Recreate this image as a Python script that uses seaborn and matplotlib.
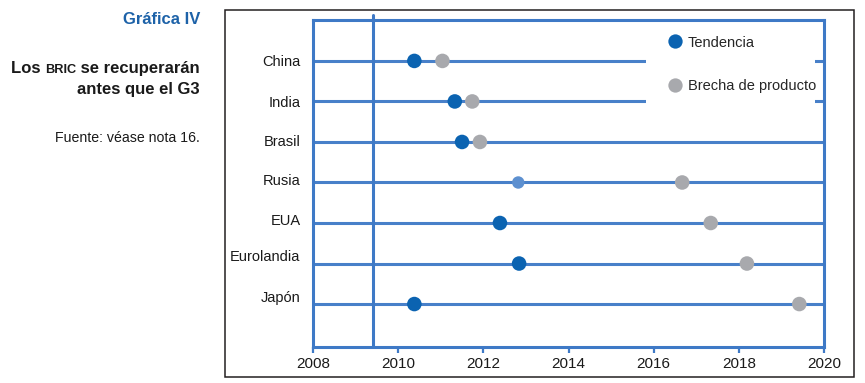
import numpy as np
import pandas as pd
import matplotlib
matplotlib.use("Agg")
import matplotlib.pyplot as plt
import matplotlib.transforms as mtransforms
from matplotlib.patches import Rectangle
from matplotlib.lines import Line2D
import seaborn as sns

# ---- data ----
countries = ["China", "India", "Brasil", "Rusia", "EUA", "Eurolandia", "Japón"]
tendencia = [2010.38, 2011.33, 2011.50, 2012.82, 2012.39, 2012.84, 2010.38]
brecha = [2011.04, 2011.74, 2011.92, 2016.67, 2017.34, 2018.19, 2019.42]
tendencia_tenue = [False, False, False, True, False, False, False]
ref_year = 2009.4
x_ticks = [2008, 2010, 2012, 2014, 2016, 2018, 2020]
series_names = ["Tendencia", "Brecha de producto"]

title = "Gráfica IV"
subtitle_parts = ["Los ", "BRIC", " se recuperarán"]
subtitle_line2 = "antes que el G3"
source = "Fuente: véase nota 16."

# ---- style ----
sns.set_style("white")
plt.rcParams["font.family"] = ["Liberation Sans", "DejaVu Sans"]

BLUE_DOT = "#0b63b1"
BLUE_TENUE = "#5d90d0"
GREY_DOT = "#a8a9ad"
LINE_C = "#3e79c6"
TITLE_C = "#1d62a8"
TXT = "#1a1a1a"

W, H = 865, 383
fig = plt.figure(figsize=(W / 100, H / 100), dpi=100)
ax = fig.add_axes([313 / W, 36 / H, 511 / W, 327 / H])

pos = np.arange(len(countries))
df = pd.DataFrame({"pais": countries, "pos": pos, "tendencia": tendencia,
                   "brecha": brecha, "tenue": tendencia_tenue})

# gridlines = country rows
ax.set_axisbelow(True)
ax.set_yticks(pos)
ax.set_yticklabels(countries)
ax.yaxis.grid(True, color=LINE_C, lw=2.2, alpha=0.95)
ax.xaxis.grid(False)

sns.scatterplot(data=df, x="brecha", y="pos", color=GREY_DOT, s=110,
                edgecolor="none", linewidth=0, ax=ax, zorder=3, legend=False)
sns.scatterplot(data=df[~df["tenue"]], x="tendencia", y="pos", color=BLUE_DOT,
                s=110, edgecolor="none", linewidth=0, ax=ax, zorder=4, legend=False)
sns.scatterplot(data=df[df["tenue"]], x="tendencia", y="pos", color=BLUE_TENUE,
                s=80, edgecolor="none", linewidth=0, ax=ax, zorder=4, legend=False)

ax.axvline(ref_year, ymin=0, ymax=1.015, color=LINE_C, lw=2.2, clip_on=False, zorder=2)

ax.set_xlim(x_ticks[0], x_ticks[-1])
ax.set_ylim(len(countries) - 1 + 1.06, -1.01)
ax.set_xlabel("")
ax.set_ylabel("")
ax.set_xticks(x_ticks)
ax.set_xticklabels([str(t) for t in x_ticks])

for s in ax.spines.values():
    s.set_visible(True)
    s.set_color(LINE_C)
    s.set_linewidth(2.2)

ax.tick_params(axis="x", direction="out", length=4, width=1.6, color=LINE_C,
               labelsize=11, pad=3, labelcolor=TXT, bottom=True)
ax.tick_params(axis="y", length=0, labelsize=10.5, pad=9, labelcolor=TXT)

# small upward drift of row labels
label_shift = [0, 0, 1, 3, 3.5, 8, 8]
for lab, dy in zip(ax.get_yticklabels(), label_shift):
    lab.set_transform(lab.get_transform() +
                      mtransforms.ScaledTranslation(0, dy / 100, fig.dpi_scale_trans))

# white area behind legend
ax.add_patch(Rectangle(((646 - 313) / 511, (347 - 115) / 327), (815 - 646) / 511,
                       (115 - 24) / 327, transform=ax.transAxes, facecolor="white",
                       edgecolor="none", zorder=2.5))

handles = [Line2D([], [], ls="", marker="o", ms=10.3, color=BLUE_DOT, mec="none"),
           Line2D([], [], ls="", marker="o", ms=10.3, color=GREY_DOT, mec="none")]
leg = ax.legend(handles, series_names, loc="center left",
                bbox_to_anchor=((667.7 - 313) / 511, (347 - 64.5) / 327),
                frameon=False, fontsize=10.5, handlelength=1.0, handletextpad=0.4,
                borderpad=0, borderaxespad=0, labelspacing=2.05)
leg.set_zorder(5)

# outer frame
fig.add_artist(Rectangle((225 / W, 6 / H), (854 - 225) / W, (377 - 10) / H,
                         transform=fig.transFigure, fill=False,
                         edgecolor="#231f20", lw=1.1))

# left text panel
fig.text(200 / W, 1 - 19 / H, title, ha="right", va="center", color=TITLE_C,
         fontsize=12, fontweight="bold")

# subtitle line 1 with small caps "BRIC", aligned on a common baseline
renderer = fig.canvas.get_renderer()
base_y = 1 - 73 / H
x_right = 200 / W
sizes = [12, 9.2, 12]
for part, fs in reversed(list(zip(subtitle_parts, sizes))):
    t = fig.text(x_right, base_y, part, ha="right", va="baseline",
                 fontsize=fs, fontweight="bold", color=TXT)
    w = t.get_window_extent(renderer).width
    x_right -= w / W

fig.text(200 / W, 1 - 94 / H, subtitle_line2, ha="right", va="baseline",
         fontsize=12, fontweight="bold", color=TXT)
fig.text(200 / W, 1 - 138 / H, source, ha="right", va="center",
         fontsize=10.2, color=TXT)

fig.savefig("out.png", dpi=100)
